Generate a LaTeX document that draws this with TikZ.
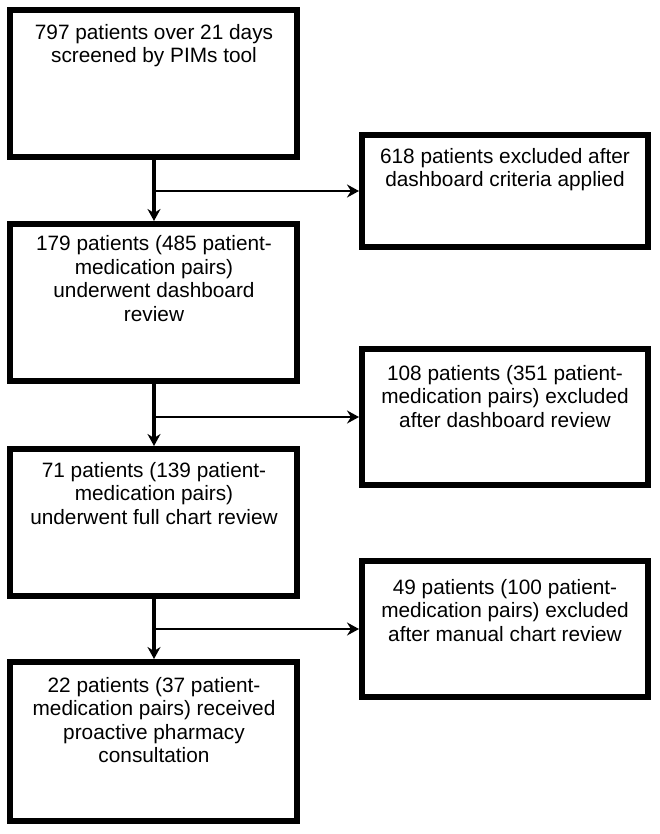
\documentclass[tikz,border=0pt]{standalone}
\usepackage{fontspec}
\setmainfont{Liberation Sans}
\usetikzlibrary{arrows.meta}
\begin{document}
\begin{tikzpicture}[x=1pt,y=-1pt,
  box/.style={draw,line width=6pt,rectangle,inner sep=0pt,minimum width=287pt},
  rbox/.style={draw,line width=6pt,rectangle,inner sep=0pt,minimum width=286pt},
  txt/.style={anchor=north,align=center,inner sep=0pt,font=\fontsize{20.8}{23.6}\selectfont},
  tip/.style={-{Stealth[length=12pt,width=13pt,inset=4pt]}},
  vconn/.style={line width=4pt,tip},
  hconn/.style={line width=2.6pt,tip}]
\useasboundingbox (0,0) rectangle (659,834);
\fill[white] (0,0) rectangle (659,834);
% left column
\node[box,minimum height=147pt] (b1) at (153.5,83.5) {};
\node[box,minimum height=157pt] (b2) at (153.5,302.5) {};
\node[box,minimum height=147pt] (b3) at (153.5,522.5) {};
\node[box,minimum height=159pt] (b4) at (153.5,741.5) {};
% right column
\node[rbox,minimum height=112pt] (r1) at (505,191) {};
\node[rbox,minimum height=136pt] (r2) at (505,417) {};
\node[rbox,minimum height=136pt] (r3) at (505,629) {};
% texts
\node[txt] (t1) at (154,23.8) {797 patients over 21 days\\screened by PIMs tool};
\node[txt] (t2) at (154,235.5) {179 patients (485 patient-\\medication pairs)\\underwent dashboard\\review};
\node[txt] (t3) at (154,461.8) {71 patients (139 patient-\\medication pairs)\\underwent full chart review};
\node[txt] (t4) at (154,676.8) {22 patients (37 patient-\\medication pairs) received\\proactive pharmacy\\consultation};
\node[txt] (s1) at (505,147.8) {618 patients excluded after\\dashboard criteria applied};
\node[txt] (s2) at (505,364.8) {108 patients (351 patient-\\medication pairs) excluded\\after dashboard review};
\node[txt] (s3) at (505,578.8) {49 patients (100 patient-\\medication pairs) excluded\\after manual chart review};
% junctions
\coordinate (j1) at (154,191);
\coordinate (j2) at (154,417);
\coordinate (j3) at (154,629);
% connectors
\draw[vconn] (b1.south -| j1) -- (b2.north -| j1);
\draw[vconn] (b2.south -| j2) -- (b3.north -| j2);
\draw[vconn] (b3.south -| j3) -- (b4.north -| j3);
\draw[hconn] (j1) -- (r1.west);
\draw[hconn] (j2) -- (r2.west);
\draw[hconn] (j3) -- (r3.west);
\end{tikzpicture}
\end{document}
